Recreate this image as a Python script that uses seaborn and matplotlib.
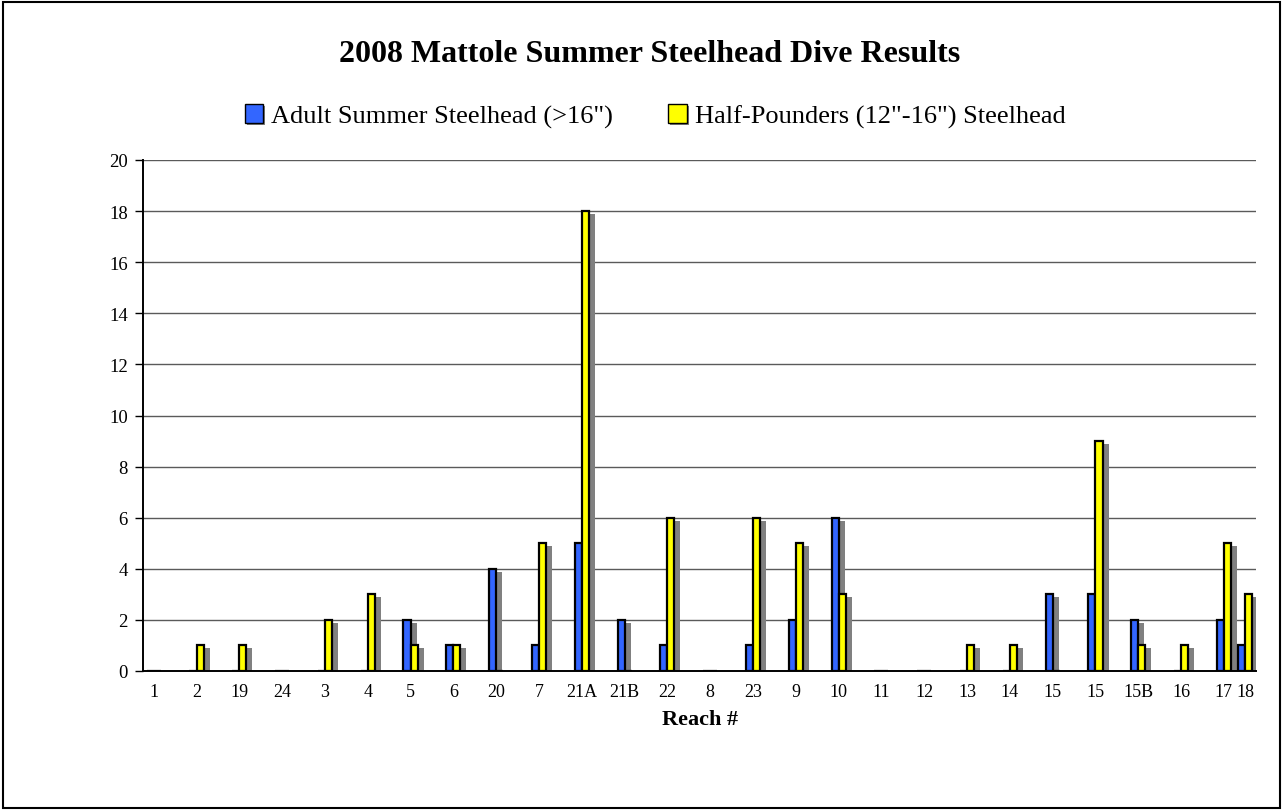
import numpy as np
import pandas as pd
import matplotlib
matplotlib.use("Agg")
import matplotlib.pyplot as plt
import matplotlib.patheffects as pe
from matplotlib.patches import Rectangle
from matplotlib.transforms import offset_copy
import seaborn as sns

# Dive counts per reach, in survey order
reaches = ["1", "2", "19", "24", "3", "4", "5", "6", "20", "7", "21A", "21B", "22", "8",
           "23", "9", "10", "11", "12", "13", "14", "15", "15", "15B", "16", "17", "18"]
adult = [0, 0, 0, 0, 0, 0, 2, 1, 4, 1, 5, 2, 1, 0, 1, 2, 6, 0, 0, 0, 0, 3, 3, 2, 0, 2, 1]
half = [0, 1, 1, 0, 2, 3, 1, 1, 0, 5, 18, 0, 6, 0, 6, 5, 3, 0, 0, 1, 1, 0, 9, 1, 1, 5, 3]
series_names = ['Adult Summer Steelhead (>16")', 'Half-Pounders (12"-16") Steelhead']
y_ticks = list(range(0, 21, 2))

BLUE = "#3366FF"
YELLOW = "#FFFF00"
SHADOW = "#808080"

sns.set_theme(style="white")
plt.rcParams["font.family"] = ["Liberation Serif", "DejaVu Serif"]
plt.rcParams.update({"text.color": "black", "axes.labelcolor": "black",
                     "xtick.color": "black", "ytick.color": "black"})

# category slots: an empty slot follows each reach, except the last pair which sit side by side
steps = [2] * (len(reaches) - 2) + [1]
slots = np.concatenate([[0], np.cumsum(steps)]).astype(int)
n_slots = int(slots[-1]) + 1

df = pd.DataFrame({
    "slot": np.concatenate([slots, slots]),
    "count": adult + half,
    "series": [series_names[0]] * len(reaches) + [series_names[1]] * len(reaches),
})

fig = plt.figure(figsize=(12.83, 8.12), dpi=100)
ax = fig.add_axes([143 / 1283, 1 - 672 / 812, (1256 - 143) / 1283, (672 - 161) / 812])

common = dict(data=df, x="slot", y="count", hue="series", order=list(range(n_slots)),
              hue_order=series_names, width=0.66, errorbar=None, ax=ax, legend=False,
              saturation=1)

# drop shadows, shifted right and down by a few pixels
n0 = len(ax.patches)
sns.barplot(palette=[SHADOW, SHADOW], linewidth=0, zorder=2, **common)
shifted = offset_copy(ax.transData, fig=fig, x=6, y=-3, units="dots")
for p in ax.patches[n0:]:
    p.set_transform(shifted)

# main bars
sns.barplot(palette=[BLUE, YELLOW], edgecolor="black", linewidth=1.6, zorder=3, **common)

ax.set_xlim(-0.5, n_slots - 0.5)
ax.set_ylim(0, 20)
ax.set_yticks(y_ticks)
ax.set_yticklabels([str(v) for v in y_ticks], fontsize=13.5)
ax.yaxis.grid(True, color="#5a5a5a", linewidth=1, zorder=1)
ax.set_axisbelow(True)

labels = [""] * n_slots
for s, r in zip(slots, reaches):
    labels[s] = r
ax.set_xticks(range(n_slots))
ax.set_xticklabels(labels, fontsize=13)
ax.set_xticks(np.arange(-0.5, n_slots, 1.0), minor=True)
ax.tick_params(axis="x", which="major", length=0, pad=9)
ax.tick_params(axis="x", which="minor", length=5, width=1, direction="out", color="black")
ax.tick_params(axis="y", length=6, width=1, direction="out", color="black", pad=5, left=True)
ax.set_xlabel("")
ax.set_ylabel("")

for side in ("top", "right"):
    ax.spines[side].set_visible(False)
for side in ("left", "bottom"):
    ax.spines[side].set_color("black")
    ax.spines[side].set_linewidth(1.4)
    ax.spines[side].set_zorder(4)

fig.text(650 / 1283, 1 - 55 / 812, "2008 Mattole Summer Steelhead Dive Results",
         ha="center", va="center", fontsize=23, fontweight="bold")
fig.text((143 + 1256) / 2 / 1283, 1 - 720 / 812, "Reach #",
         ha="center", va="center", fontsize=16, fontweight="bold")

shadow_fx = [pe.SimplePatchShadow(offset=(1.5, -1.5), shadow_rgbFace="#808080", alpha=1), pe.Normal()]
handles = [Rectangle((0, 0), 1, 1, facecolor=c, edgecolor="black", linewidth=1, path_effects=shadow_fx)
           for c in (BLUE, YELLOW)]
fig.legend(handles, series_names, loc="center", bbox_to_anchor=(655 / 1283, 1 - 117 / 812),
           ncol=2, frameon=False, fontsize=19, handlelength=0.7, handleheight=0.7,
           handletextpad=0.3, columnspacing=2.1)

fig.patches.append(Rectangle((3 / 1283, 3 / 812), 1277 / 1283, 806 / 812, transform=fig.transFigure,
                             fill=False, edgecolor="black", linewidth=1.5))

fig.savefig("out.png", dpi=100)
